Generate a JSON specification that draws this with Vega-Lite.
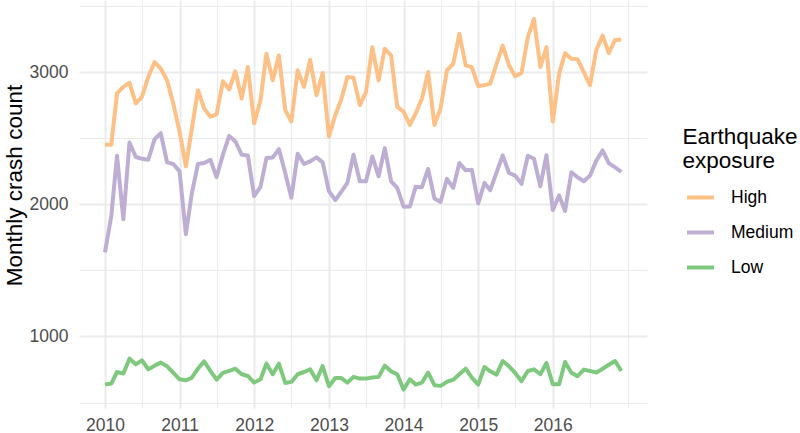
{
"$schema": "https://vega.github.io/schema/vega-lite/v6.json",
"width": 568, "height": 408,
"autosize": {"type": "none"},
"padding": {"left": 79, "top": 0, "right": 153, "bottom": 25},
"background": "white",
"config": {"view": {"stroke": null}, "font": "Liberation Sans"},
"data": {"values": [
{"d":"2010-01-01","High":2451,"Medium":1637,"Low":636},
{"d":"2010-02-01","High":2451,"Medium":1912,"Low":643},
{"d":"2010-03-01","High":2840,"Medium":2368,"Low":731},
{"d":"2010-04-01","High":2890,"Medium":1887,"Low":719},
{"d":"2010-05-01","High":2920,"Medium":2469,"Low":832},
{"d":"2010-06-01","High":2765,"Medium":2359,"Low":789},
{"d":"2010-07-01","High":2815,"Medium":2346,"Low":819},
{"d":"2010-08-01","High":2965,"Medium":2338,"Low":751},
{"d":"2010-09-01","High":3078,"Medium":2494,"Low":779},
{"d":"2010-10-01","High":3028,"Medium":2539,"Low":802},
{"d":"2010-11-01","High":2940,"Medium":2318,"Low":774},
{"d":"2010-12-01","High":2765,"Medium":2306,"Low":726},
{"d":"2011-01-01","High":2551,"Medium":2250,"Low":676},
{"d":"2011-02-01","High":2288,"Medium":1774,"Low":668},
{"d":"2011-03-01","High":2564,"Medium":2075,"Low":686},
{"d":"2011-04-01","High":2865,"Medium":2306,"Low":756},
{"d":"2011-05-01","High":2727,"Medium":2313,"Low":812},
{"d":"2011-06-01","High":2664,"Medium":2338,"Low":739},
{"d":"2011-07-01","High":2682,"Medium":2206,"Low":673},
{"d":"2011-08-01","High":2932,"Medium":2376,"Low":724},
{"d":"2011-09-01","High":2870,"Medium":2519,"Low":739},
{"d":"2011-10-01","High":3008,"Medium":2477,"Low":756},
{"d":"2011-11-01","High":2802,"Medium":2376,"Low":714},
{"d":"2011-12-01","High":3040,"Medium":2371,"Low":701},
{"d":"2012-01-01","High":2614,"Medium":2063,"Low":651},
{"d":"2012-02-01","High":2789,"Medium":2133,"Low":676},
{"d":"2012-03-01","High":3140,"Medium":2351,"Low":794},
{"d":"2012-04-01","High":2940,"Medium":2356,"Low":714},
{"d":"2012-05-01","High":3128,"Medium":2419,"Low":794},
{"d":"2012-06-01","High":2714,"Medium":2238,"Low":648},
{"d":"2012-07-01","High":2627,"Medium":2050,"Low":656},
{"d":"2012-08-01","High":3015,"Medium":2383,"Low":714},
{"d":"2012-09-01","High":2890,"Medium":2306,"Low":731},
{"d":"2012-10-01","High":3095,"Medium":2326,"Low":751},
{"d":"2012-11-01","High":2827,"Medium":2356,"Low":668},
{"d":"2012-12-01","High":2995,"Medium":2318,"Low":776},
{"d":"2013-01-01","High":2514,"Medium":2100,"Low":623},
{"d":"2013-02-01","High":2677,"Medium":2032,"Low":686},
{"d":"2013-03-01","High":2789,"Medium":2093,"Low":686},
{"d":"2013-04-01","High":2965,"Medium":2163,"Low":651},
{"d":"2013-05-01","High":2960,"Medium":2376,"Low":694},
{"d":"2013-06-01","High":2752,"Medium":2175,"Low":681},
{"d":"2013-07-01","High":2850,"Medium":2175,"Low":681},
{"d":"2013-08-01","High":3190,"Medium":2363,"Low":689},
{"d":"2013-09-01","High":2940,"Medium":2213,"Low":694},
{"d":"2013-10-01","High":3178,"Medium":2426,"Low":779},
{"d":"2013-11-01","High":3128,"Medium":2175,"Low":736},
{"d":"2013-12-01","High":2739,"Medium":2125,"Low":714},
{"d":"2014-01-01","High":2702,"Medium":1983,"Low":598},
{"d":"2014-02-01","High":2602,"Medium":1985,"Low":676},
{"d":"2014-03-01","High":2689,"Medium":2133,"Low":636},
{"d":"2014-04-01","High":2802,"Medium":2130,"Low":651},
{"d":"2014-05-01","High":3002,"Medium":2268,"Low":726},
{"d":"2014-06-01","High":2602,"Medium":2045,"Low":631},
{"d":"2014-07-01","High":2727,"Medium":2018,"Low":626},
{"d":"2014-08-01","High":3015,"Medium":2193,"Low":656},
{"d":"2014-09-01","High":3065,"Medium":2125,"Low":673},
{"d":"2014-10-01","High":3291,"Medium":2313,"Low":714},
{"d":"2014-11-01","High":3053,"Medium":2258,"Low":756},
{"d":"2014-12-01","High":3040,"Medium":2263,"Low":689},
{"d":"2015-01-01","High":2895,"Medium":2008,"Low":636},
{"d":"2015-02-01","High":2903,"Medium":2163,"Low":769},
{"d":"2015-03-01","High":2915,"Medium":2108,"Low":736},
{"d":"2015-04-01","High":3065,"Medium":2243,"Low":711},
{"d":"2015-05-01","High":3203,"Medium":2371,"Low":814},
{"d":"2015-06-01","High":3053,"Medium":2238,"Low":774},
{"d":"2015-07-01","High":2970,"Medium":2218,"Low":724},
{"d":"2015-08-01","High":2995,"Medium":2156,"Low":661},
{"d":"2015-09-01","High":3266,"Medium":2368,"Low":739},
{"d":"2015-10-01","High":3404,"Medium":2346,"Low":751},
{"d":"2015-11-01","High":3040,"Medium":2138,"Low":714},
{"d":"2015-12-01","High":3190,"Medium":2373,"Low":799},
{"d":"2016-01-01","High":2627,"Medium":1957,"Low":638},
{"d":"2016-02-01","High":2990,"Medium":2068,"Low":638},
{"d":"2016-03-01","High":3145,"Medium":1950,"Low":807},
{"d":"2016-04-01","High":3103,"Medium":2243,"Low":726},
{"d":"2016-05-01","High":3100,"Medium":2206,"Low":699},
{"d":"2016-06-01","High":3002,"Medium":2175,"Low":749},
{"d":"2016-07-01","High":2902,"Medium":2218,"Low":739},
{"d":"2016-08-01","High":3170,"Medium":2331,"Low":726},
{"d":"2016-09-01","High":3278,"Medium":2409,"Low":756},
{"d":"2016-10-01","High":3145,"Medium":2313,"Low":786},
{"d":"2016-11-01","High":3245,"Medium":2281,"Low":814},
{"d":"2016-12-01","High":3248,"Medium":2246,"Low":739}
]},
"transform": [{"fold": ["High", "Medium", "Low"], "as": ["exposure", "count"]}],
"mark": {"type": "line", "strokeWidth": 4, "strokeJoin": "round", "strokeCap": "butt"},
"encoding": {
  "x": {"field": "d", "type": "temporal",
    "scale": {"type": "utc", "domain": [
      {"year": 2009, "month": 8, "date": 27, "utc": true},
      {"year": 2017, "month": 4, "date": 6, "utc": true}]},
    "axis": {
      "values": [
        {"year": 2010, "month": 1, "date": 1, "utc": true},
        {"year": 2010, "month": 7, "date": 1, "utc": true},
        {"year": 2011, "month": 1, "date": 1, "utc": true},
        {"year": 2011, "month": 7, "date": 1, "utc": true},
        {"year": 2012, "month": 1, "date": 1, "utc": true},
        {"year": 2012, "month": 7, "date": 1, "utc": true},
        {"year": 2013, "month": 1, "date": 1, "utc": true},
        {"year": 2013, "month": 7, "date": 1, "utc": true},
        {"year": 2014, "month": 1, "date": 1, "utc": true},
        {"year": 2014, "month": 7, "date": 1, "utc": true},
        {"year": 2015, "month": 1, "date": 1, "utc": true},
        {"year": 2015, "month": 7, "date": 1, "utc": true},
        {"year": 2016, "month": 1, "date": 1, "utc": true},
        {"year": 2016, "month": 7, "date": 1, "utc": true},
        {"year": 2017, "month": 1, "date": 1, "utc": true}
      ],
      "labelExpr": "utcmonth(datum.value) == 0 && utcyear(datum.value) <= 2016 ? utcFormat(datum.value, '%Y') : ''",
      "gridWidth": {"condition": {"test": "utcmonth(datum.value) == 0 && utcyear(datum.value) <= 2016", "value": 2}, "value": 1.1},
      "gridColor": "#EBEBEB",
      "ticks": false, "tickSize": 0, "domain": false,
      "labelPadding": 8, "labelFontSize": 17.5, "labelColor": "#4D4D4D",
      "labelFlush": false, "labelOverlap": false,
      "title": null
    }},
  "y": {"field": "count", "type": "quantitative",
    "scale": {"domain": [458.4, 3547.7], "nice": false, "zero": false},
    "axis": {
      "values": [500, 1000, 1500, 2000, 2500, 3000, 3500],
      "format": "d",
      "labelExpr": "datum.value % 1000 == 0 ? datum.label : ''",
      "gridWidth": {"condition": {"test": "datum.value % 1000 == 0", "value": 2}, "value": 1.1},
      "gridColor": "#EBEBEB",
      "ticks": false, "tickSize": 0, "domain": false,
      "labelPadding": 11, "labelFontSize": 17.5, "labelColor": "#4D4D4D",
      "labelFlush": false, "labelOverlap": false,
      "title": "Monthly crash count",
      "titleFontSize": 22.5, "titleFontWeight": "normal", "titleColor": "#000000",
      "titleAngle": -90, "titleX": -58, "titleY": 185,
      "titleAlign": "center", "titleBaseline": "alphabetic"
    }},
  "color": {"field": "exposure", "type": "nominal",
    "scale": {"domain": ["High", "Medium", "Low"], "range": ["#FDC086", "#BEAED4", "#7FC97F"]},
    "legend": {
      "orient": "none", "legendX": 603.5, "legendY": 126,
      "title": ["Earthquake", "exposure"],
      "titleFontSize": 22.5, "titleFontWeight": "normal", "titleColor": "#000000",
      "titleLineHeight": 23.5, "titlePadding": 10,
      "labelFontSize": 17.5, "labelColor": "#000000",
      "symbolType": "stroke", "symbolSize": 729, "symbolStrokeWidth": 4,
      "symbolOffset": 2.5, "labelOffset": 15, "rowPadding": 11, "padding": 0
    }}
}
}
